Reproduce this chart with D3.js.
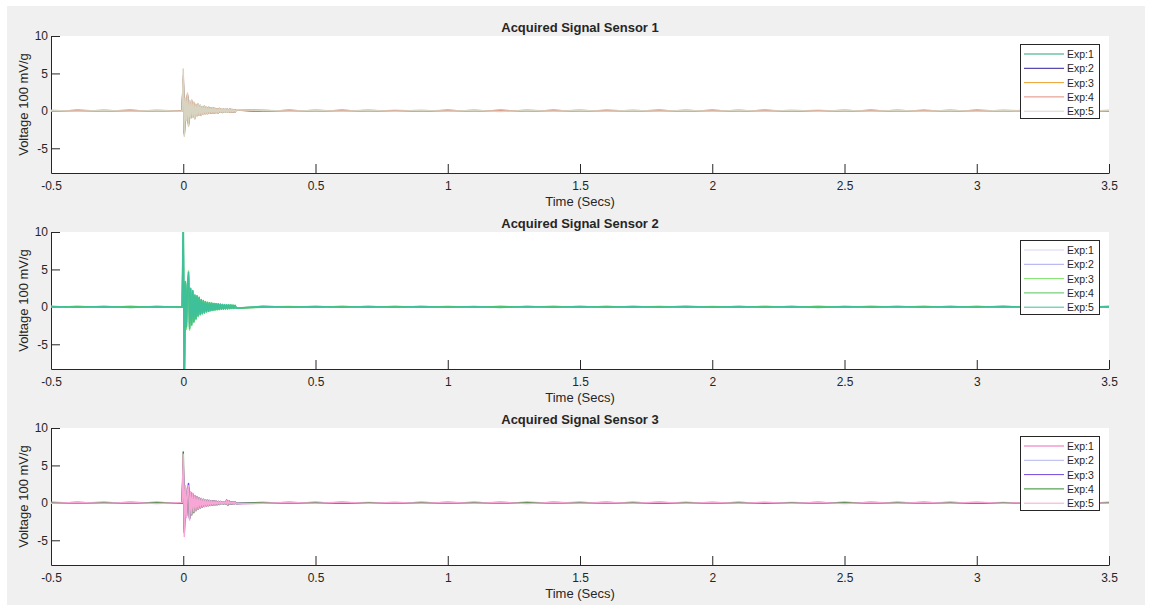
<!DOCTYPE html>
<html>
<head>
<meta charset="utf-8">
<script src="https://cdn.jsdelivr.net/npm/d3@7"></script>
<style>
  body { margin: 0; background: #ffffff; }
  text { font-family: "Liberation Sans", Arial, Helvetica, sans-serif; fill: #262626; }
</style>
</head>
<body>
<svg id="fig" width="1152" height="606"></svg>
<script>
// ---- labels and ticks ----
const sensorTitles = ["Acquired Signal Sensor 1", "Acquired Signal Sensor 2", "Acquired Signal Sensor 3"];
const expLabels = ["Exp:1", "Exp:2", "Exp:3", "Exp:4", "Exp:5"];
const xTicks = [-0.5, 0, 0.5, 1, 1.5, 2, 2.5, 3, 3.5];
const yTicks = [-5, 0, 5, 10];
const xDomain = [-0.5, 3.5];
const yDomain = [-8.3, 10];
const xLabel = "Time (Secs)";
const yLabel = "Voltage 100 mV/g";

// ---- line colours per sensor (Exp:1 .. Exp:5) ----
const sensor1Colors = ["#26a47c", "#2e1f9c", "#eea030", "#df8c78", "#d8d4c2"];
const sensor2Colors = ["#ddd4f0", "#a8a9f2", "#7de46c", "#55c45a", "#3ec19a"];
const sensor3Colors = ["#f06ab8", "#b3b4f0", "#7048e0", "#2f8a2f", "#f7a6d6"];

// ---- sample times ----
// trigger burst: every experiment sampled every 4 ms from t = 0
const burstStep = 0.004;
// quiet-period samples before and after the burst (s)
const baseTimes = [-0.5, -0.4, -0.3, -0.2, -0.1, -0.004,
  0.3, 0.4, 0.5, 0.6, 0.7, 0.8, 0.9, 1.0, 1.1, 1.2, 1.3,
  1.4, 1.5, 1.6, 1.7, 1.8, 1.9, 2.0, 2.1, 2.2, 2.3, 2.4,
  2.5, 2.6, 2.7, 2.8, 2.9, 3.0, 3.1, 3.2, 3.3, 3.4, 3.5];

// ---- Sensor 1: burst (V) ----
const sensor1Burst = [
  [3.9, -2.8, 1.2, -1.0, 1.8, -1.6, 1.0, -0.8, 1.1, -0.7, 0.9, -0.8, 0.7, -0.55, 0.75, -0.5, 0.6, -0.5, 0.5, -0.4, 0.55, -0.35, 0.4, -0.3, 0.45, -0.3,
   0.35, -0.25, 0.35, -0.25, 0.3, -0.2, 0.25, -0.22, 0.28, -0.18, 0.25, -0.18, 0.2, -0.16, 0.22, -0.15, 0.18, -0.15, 0.2, -0.12, 0.16, -0.13, 0.14, -0.1, 0.12],
  [4.3, -3.0, 1.4, -1.1, 2.0, -1.7, 1.1, -0.85, 1.2, -0.75, 1.0, -0.9, 0.75, -0.6, 0.8, -0.5, 0.65, -0.55, 0.5, -0.42, 0.58, -0.38, 0.42, -0.33, 0.46, -0.3,
   0.34, -0.26, 0.38, -0.25, 0.3, -0.22, 0.26, -0.24, 0.3, -0.17, 0.26, -0.19, 0.21, -0.17, 0.25, -0.15, 0.19, -0.17, 0.21, -0.13, 0.17, -0.14, 0.15, -0.1, 0.13],
  [3.6, -2.6, 1.3, -1.2, 2.1, -1.8, 1.2, -0.9, 1.3, -0.8, 1.05, -0.95, 0.8, -0.62, 0.85, -0.55, 0.7, -0.58, 0.52, -0.44, 0.6, -0.4, 0.45, -0.35, 0.48, -0.32,
   0.36, -0.27, 0.4, -0.27, 0.32, -0.23, 0.27, -0.25, 0.31, -0.18, 0.27, -0.2, 0.22, -0.18, 0.26, -0.16, 0.2, -0.18, 0.22, -0.14, 0.18, -0.15, 0.16, -0.11, 0.14],
  [4.7, -3.2, 1.5, -1.2, 2.2, -1.9, 1.3, -0.95, 1.35, -0.85, 1.1, -1.0, 0.85, -0.65, 0.9, -0.58, 0.72, -0.6, 0.55, -0.46, 0.62, -0.42, 0.47, -0.37, 0.5, -0.33,
   0.38, -0.28, 0.42, -0.28, 0.33, -0.24, 0.28, -0.26, 0.32, -0.19, 0.28, -0.21, 0.23, -0.19, 0.27, -0.17, 0.21, -0.19, 0.23, -0.14, 0.19, -0.15, 0.17, -0.11, 0.14],
  [5.6, -3.4, 1.7, -1.3, 2.4, -2.1, 1.4, -1.0, 1.5, -0.9, 1.2, -1.1, 0.9, -0.7, 1.0, -0.6, 0.8, -0.65, 0.6, -0.5, 0.7, -0.45, 0.5, -0.4, 0.55, -0.35,
   0.4, -0.3, 0.45, -0.3, 0.35, -0.25, 0.3, -0.28, 0.35, -0.2, 0.3, -0.22, 0.25, -0.2, 0.3, -0.18, 0.22, -0.2, 0.25, -0.15, 0.2, -0.16, 0.18, -0.12, 0.15]
];
// ---- Sensor 1: quiet-period noise (V) ----
const sensor1Baseline = [
  [0.03, -0.05, 0.04, -0.06, 0.04, -0.03, 0.05, -0.04, 0.06, -0.03, 0.05, -0.05, 0.03, -0.06, 0.04, -0.05, 0.05, -0.03, 0.06, -0.04, 0.04, -0.05, 0.05, -0.04, 0.06, -0.05, 0.03, -0.05, 0.04, -0.06, 0.05, -0.04, 0.05, -0.04, 0.06, -0.05, 0.04, -0.05, 0.03],
  [-0.04, 0.05, -0.03, 0.05, -0.06, 0.04, -0.05, 0.06, -0.04, 0.05, -0.04, 0.03, -0.05, 0.05, -0.06, 0.04, -0.04, 0.06, -0.05, 0.05, -0.03, 0.04, -0.06, 0.05, -0.04, 0.06, -0.05, 0.03, -0.05, 0.04, -0.05, 0.06, -0.04, 0.05, -0.03, 0.05, -0.04, 0.04, -0.03],
  [0.05, -0.04, 0.06, -0.05, 0.03, -0.04, 0.05, -0.06, 0.04, -0.05, 0.06, -0.03, 0.04, -0.05, 0.06, -0.05, 0.04, -0.04, 0.05, -0.06, 0.03, -0.05, 0.05, -0.04, 0.04, -0.06, 0.05, -0.03, 0.06, -0.04, 0.04, -0.05, 0.06, -0.05, 0.03, -0.04, 0.05, -0.04, 0.05],
  [-0.05, 0.04, -0.04, 0.06, -0.05, 0.03, -0.06, 0.05, -0.04, 0.04, -0.06, 0.05, -0.03, 0.05, -0.04, 0.06, -0.05, 0.04, -0.05, 0.03, -0.06, 0.05, -0.04, 0.05, -0.06, 0.04, -0.03, 0.06, -0.05, 0.04, -0.05, 0.03, -0.04, 0.06, -0.05, 0.05, -0.06, 0.04, -0.03],
  [0.04, -0.06, 0.05, -0.04, 0.06, -0.05, 0.07, -0.05, 0.05, -0.06, 0.04, -0.05, 0.06, -0.04, 0.05, -0.07, 0.05, -0.04, 0.06, -0.05, 0.04, -0.06, 0.05, -0.05, 0.06, -0.04, 0.05, -0.06, 0.04, -0.05, 0.06, -0.05, 0.05, -0.06, 0.04, -0.04, 0.06, -0.05, 0.05]
];

// ---- Sensor 2: burst (V) ----
const sensor2Burst = [
  [8.0, -7.0, 2.4, -2.0, 2.6, 3.6, -2.2, 1.9, -1.8, 1.7, -1.5, 1.2, -1.2, 1.1, -0.9, 1.0, -0.75, 0.75, -0.7, 0.65, -0.6, 0.52, -0.5, 0.45, -0.45, 0.42,
   -0.38, 0.38, -0.34, 0.34, -0.3, 0.32, -0.27, 0.3, -0.26, 0.26, -0.23, 0.24, -0.22, 0.22, -0.2, 0.21, -0.19, 0.2, -0.17, 0.19, -0.15, 0.17, -0.15, 0.15, -0.14],
  [8.5, -7.5, 2.5, -2.1, 2.7, 3.8, -2.3, 2.0, -1.9, 1.8, -1.6, 1.3, -1.3, 1.2, -0.95, 1.05, -0.8, 0.8, -0.72, 0.68, -0.64, 0.56, -0.52, 0.48, -0.48, 0.44,
   -0.4, 0.4, -0.36, 0.36, -0.32, 0.34, -0.29, 0.32, -0.27, 0.28, -0.24, 0.26, -0.24, 0.24, -0.21, 0.22, -0.2, 0.21, -0.18, 0.2, -0.16, 0.18, -0.16, 0.16, -0.14],
  [10.5, -11.0, 3.0, -3.0, 2.8, 4.8, -3.1, 2.3, -2.5, 2.0, -2.1, 1.5, -1.7, 1.4, -1.3, 1.2, -1.1, 0.95, -0.95, 0.8, -0.85, 0.65, -0.7, 0.58, -0.62, 0.52,
   -0.52, 0.48, -0.47, 0.43, -0.42, 0.4, -0.38, 0.38, -0.35, 0.34, -0.32, 0.3, -0.3, 0.28, -0.27, 0.27, -0.26, 0.24, -0.23, 0.23, -0.21, 0.21, -0.2, 0.19, -0.18],
  [9.0, -9.5, 3.2, -2.7, 2.9, 4.2, -2.7, 2.4, -2.2, 2.1, -1.9, 1.55, -1.5, 1.45, -1.15, 1.25, -0.95, 0.95, -0.85, 0.82, -0.75, 0.68, -0.62, 0.58, -0.56, 0.53,
   -0.48, 0.48, -0.43, 0.44, -0.38, 0.4, -0.35, 0.38, -0.32, 0.34, -0.29, 0.31, -0.28, 0.29, -0.25, 0.27, -0.24, 0.25, -0.21, 0.24, -0.19, 0.21, -0.19, 0.19, -0.17],
  [14.0, -12.0, 3.4, -2.6, 3.1, 4.6, -2.9, 2.5, -2.4, 2.2, -2.0, 1.6, -1.6, 1.5, -1.2, 1.3, -1.0, 1.0, -0.9, 0.85, -0.8, 0.7, -0.65, 0.6, -0.6, 0.55,
   -0.5, 0.5, -0.45, 0.45, -0.4, 0.42, -0.36, 0.4, -0.34, 0.35, -0.3, 0.32, -0.3, 0.3, -0.26, 0.28, -0.25, 0.26, -0.22, 0.25, -0.2, 0.22, -0.2, 0.2, -0.18]
];
// ---- Sensor 2: quiet-period noise (V) ----
const sensor2Baseline = [
  [0.05, -0.04, 0.05, -0.06, 0.04, -0.03, 0.06, -0.05, 0.04, -0.05, 0.06, -0.04, 0.05, -0.06, 0.03, -0.05, 0.04, -0.04, 0.06, -0.05, 0.05, -0.03, 0.06, -0.04, 0.04, -0.06, 0.05, -0.05, 0.03, -0.04, 0.05, -0.06, 0.04, -0.05, 0.06, -0.03, 0.04, -0.05, 0.04],
  [-0.04, 0.05, -0.06, 0.04, -0.05, 0.06, -0.03, 0.05, -0.05, 0.04, -0.06, 0.04, -0.05, 0.03, -0.06, 0.05, -0.04, 0.06, -0.04, 0.05, -0.05, 0.03, -0.06, 0.04, -0.05, 0.04, -0.06, 0.05, -0.03, 0.06, -0.04, 0.05, -0.04, 0.05, -0.06, 0.04, -0.03, 0.05, -0.05],
  [0.06, -0.05, 0.04, -0.05, 0.06, -0.04, 0.05, -0.03, 0.05, -0.06, 0.04, -0.06, 0.05, -0.04, 0.03, -0.05, 0.06, -0.05, 0.04, -0.04, 0.06, -0.05, 0.03, -0.05, 0.06, -0.04, 0.04, -0.06, 0.05, -0.03, 0.05, -0.06, 0.04, -0.05, 0.04, -0.05, 0.06, -0.04, 0.05],
  [-0.05, 0.06, -0.04, 0.04, -0.05, 0.05, -0.06, 0.03, -0.05, 0.05, -0.04, 0.06, -0.06, 0.04, -0.05, 0.05, -0.03, 0.04, -0.06, 0.06, -0.04, 0.05, -0.05, 0.03, -0.04, 0.06, -0.05, 0.04, -0.06, 0.05, -0.03, 0.05, -0.05, 0.04, -0.04, 0.06, -0.05, 0.06, -0.04],
  [0.06, -0.05, 0.05, -0.07, 0.04, -0.05, 0.07, -0.06, 0.05, -0.06, 0.05, -0.04, 0.06, -0.05, 0.06, -0.07, 0.05, -0.05, 0.06, -0.06, 0.05, -0.05, 0.07, -0.06, 0.04, -0.05, 0.06, -0.07, 0.05, -0.05, 0.06, -0.06, 0.05, -0.05, 0.07, -0.06, 0.05, -0.04, 0.06]
];

// ---- Sensor 3: burst (V) ----
const sensor3Burst = [
  [5.5, -3.8, 2.1, -1.8, 1.5, 2.1, -2.1, 1.4, -1.4, 1.2, -1.1, 0.95, -0.95, 0.8, -0.75, 0.68, -0.62, 0.58, -0.52, 0.48, -0.46, 0.41, -0.4, 0.36, -0.34, 0.31,
   -0.3, 0.28, -0.27, 0.24, -0.24, 0.21, -0.21, 0.19, -0.19, 0.17, -0.17, 0.15, -0.15, 0.14, -0.14, 0.33, -0.28, 0.28, -0.14, 0.13, -0.12, 0.11, -0.11, 0.1, -0.09],
  [4.6, -3.2, 1.9, -1.6, 1.3, 2.0, -1.9, 1.3, -1.2, 1.1, -1.0, 0.9, -0.85, 0.75, -0.68, 0.6, -0.55, 0.5, -0.47, 0.43, -0.41, 0.37, -0.36, 0.33, -0.31, 0.28,
   -0.27, 0.25, -0.24, 0.22, -0.22, 0.19, -0.19, 0.18, -0.17, 0.16, -0.15, 0.14, -0.14, 0.13, -0.12, 0.28, -0.24, 0.24, -0.12, 0.11, -0.11, 0.1, -0.1, 0.09, -0.08],
  [5.0, -3.5, 2.0, -1.7, 1.4, 2.6, -2.1, 1.4, -1.3, 1.2, -1.05, 0.95, -0.9, 0.8, -0.7, 0.65, -0.6, 0.55, -0.5, 0.45, -0.44, 0.4, -0.38, 0.35, -0.33, 0.3,
   -0.29, 0.27, -0.26, 0.23, -0.23, 0.2, -0.2, 0.19, -0.18, 0.17, -0.16, 0.15, -0.15, 0.14, -0.13, 0.3, -0.26, 0.26, -0.13, 0.12, -0.12, 0.11, -0.1, 0.09, -0.09],
  [6.8, -4.0, 2.0, -1.8, 1.4, 2.0, -2.0, 1.3, -1.6, 1.1, -1.3, 0.9, -1.05, 0.8, -0.85, 0.65, -0.7, 0.55, -0.6, 0.45, -0.5, 0.4, -0.45, 0.35, -0.38, 0.3,
   -0.34, 0.28, -0.3, 0.24, -0.26, 0.21, -0.24, 0.19, -0.21, 0.17, -0.19, 0.15, -0.17, 0.14, -0.16, 0.38, -0.32, 0.28, -0.16, 0.13, -0.14, 0.11, -0.12, 0.1, -0.1],
  [6.5, -4.5, 2.3, -2.0, 1.6, 2.3, -2.3, 1.5, -1.5, 1.3, -1.2, 1.0, -1.0, 0.85, -0.8, 0.7, -0.65, 0.6, -0.55, 0.5, -0.48, 0.42, -0.42, 0.38, -0.36, 0.32,
   -0.32, 0.3, -0.28, 0.25, -0.25, 0.22, -0.22, 0.2, -0.2, 0.18, -0.18, 0.16, -0.16, 0.15, -0.15, 0.35, -0.3, 0.3, -0.15, 0.14, -0.13, 0.12, -0.12, 0.1, -0.1]
];
// ---- Sensor 3: quiet-period noise (V) ----
const sensor3Baseline = [
  [-0.04, 0.05, -0.04, 0.06, -0.04, 0.03, -0.05, 0.05, -0.05, 0.04, -0.06, 0.05, -0.04, 0.05, -0.03, 0.05, -0.05, 0.04, -0.06, 0.04, -0.05, 0.05, -0.05, 0.03, -0.04, 0.06, -0.04, 0.05, -0.05, 0.05, -0.03, 0.04, -0.05, 0.06, -0.05, 0.04, -0.05, 0.05, -0.04],
  [0.04, -0.06, 0.05, -0.04, 0.05, -0.05, 0.03, -0.05, 0.06, -0.04, 0.05, -0.05, 0.04, -0.03, 0.05, -0.06, 0.05, -0.04, 0.04, -0.05, 0.06, -0.05, 0.03, -0.05, 0.05, -0.04, 0.04, -0.06, 0.05, -0.05, 0.04, -0.03, 0.05, -0.04, 0.05, -0.06, 0.05, -0.04, 0.03],
  [-0.05, 0.04, -0.05, 0.05, -0.03, 0.06, -0.04, 0.04, -0.05, 0.05, -0.05, 0.03, -0.06, 0.05, -0.04, 0.04, -0.05, 0.06, -0.03, 0.05, -0.05, 0.04, -0.04, 0.05, -0.06, 0.03, -0.05, 0.05, -0.04, 0.05, -0.04, 0.06, -0.05, 0.03, -0.05, 0.05, -0.04, 0.04, -0.05],
  [0.05, -0.03, 0.05, -0.05, 0.04, -0.06, 0.05, -0.04, 0.05, -0.05, 0.03, -0.05, 0.06, -0.04, 0.05, -0.05, 0.04, -0.03, 0.05, -0.06, 0.05, -0.04, 0.04, -0.05, 0.06, -0.05, 0.03, -0.05, 0.04, -0.04, 0.05, -0.06, 0.05, -0.05, 0.03, -0.04, 0.05, -0.05, 0.04],
  [-0.05, 0.06, -0.05, 0.05, -0.07, 0.05, -0.06, 0.05, -0.05, 0.07, -0.05, 0.06, -0.05, 0.04, -0.06, 0.05, -0.07, 0.05, -0.05, 0.06, -0.05, 0.07, -0.05, 0.05, -0.06, 0.05, -0.04, 0.06, -0.07, 0.05, -0.05, 0.05, -0.06, 0.07, -0.05, 0.05, -0.05, 0.06, -0.05]
];

const sensors = [
  { title: sensorTitles[0], colors: sensor1Colors, burst: sensor1Burst, baseline: sensor1Baseline },
  { title: sensorTitles[1], colors: sensor2Colors, burst: sensor2Burst, baseline: sensor2Baseline },
  { title: sensorTitles[2], colors: sensor3Colors, burst: sensor3Burst, baseline: sensor3Baseline }
];

// ---- layout ----
const plotLeft = 51, plotRight = 1109, plotH = 137;
const panelTops = [36, 232, 428];
const tickLen = 9;
const fontStack = '"Liberation Sans", Arial, Helvetica, sans-serif';

const svg = d3.select("#fig");
svg.append("rect").attr("x", 7).attr("y", 6).attr("width", 1138).attr("height", 599).attr("fill", "#f0f0f0");
const defs = svg.append("defs");

// (t, v) points of one experiment: quiet samples + burst samples, in time order
function seriesPoints(burstVals, baseVals) {
  const pts = [];
  const n = Math.min(baseTimes.length, baseVals.length);
  for (let i = 0; i < n; i++) pts.push([baseTimes[i], baseVals[i]]);
  burstVals.forEach((v, i) => pts.push([i * burstStep, v]));
  pts.sort((a, b) => a[0] - b[0]);
  return pts;
}

sensors.forEach((s, si) => {
  const top = panelTops[si];
  const x = d3.scaleLinear().domain(xDomain).range([plotLeft, plotRight]);
  const y = d3.scaleLinear().domain(yDomain).range([top + plotH, top]);
  const g = svg.append("g");

  // plot area
  g.append("rect").attr("x", plotLeft).attr("y", top)
    .attr("width", plotRight - plotLeft).attr("height", plotH).attr("fill", "#ffffff");

  // axes first so the traces sit above them (ticks point inward)
  const fmt = d => String(d);
  const xAxis = d3.axisBottom(x).tickValues(xTicks).tickFormat(fmt).tickSizeInner(-tickLen).tickSizeOuter(0).tickPadding(8);
  const yAxis = d3.axisLeft(y).tickValues(yTicks).tickFormat(fmt).tickSizeInner(-tickLen).tickSizeOuter(0).tickPadding(3);
  const gx = g.append("g").attr("transform", `translate(0,${top + plotH})`).call(xAxis);
  const gy = g.append("g").attr("transform", `translate(${plotLeft},0)`).call(yAxis);
  [gx, gy].forEach(a => {
    a.select(".domain").attr("stroke", "#262626").attr("stroke-width", 1);
    a.selectAll(".tick line").attr("stroke", "#262626").attr("stroke-width", 1);
    a.selectAll(".tick text").attr("fill", "#262626").style("font-size", "12px").style("font-family", fontStack);
  });

  const clipId = "clip" + si;
  defs.append("clipPath").attr("id", clipId).append("rect")
    .attr("x", plotLeft).attr("y", top).attr("width", plotRight - plotLeft).attr("height", plotH);

  const line = d3.line().x(d => x(d[0])).y(d => y(d[1]));
  const lines = g.append("g").attr("clip-path", `url(#${clipId})`);
  s.burst.forEach((b, ei) => {
    lines.append("path")
      .datum(seriesPoints(b, s.baseline[ei]))
      .attr("d", line)
      .attr("fill", "none")
      .attr("stroke", s.colors[ei])
      .attr("stroke-width", 1.5)
      .attr("stroke-linejoin", "round");
  });

  // title and axis labels
  g.append("text").attr("x", (plotLeft + plotRight) / 2).attr("y", top - 4)
    .attr("text-anchor", "middle").style("font-size", "13px").style("font-weight", "bold").text(s.title);
  g.append("text").attr("x", (plotLeft + plotRight) / 2).attr("y", top + plotH + 33)
    .attr("text-anchor", "middle").style("font-size", "13px").text(xLabel);
  g.append("text").attr("transform", `translate(28,${top + plotH / 2}) rotate(-90)`)
    .attr("text-anchor", "middle").style("font-size", "13px").text(yLabel);

  // legend
  const lx = 1020, ly = top + 8, lw = 79, lh = 74;
  const lg = g.append("g");
  lg.append("rect").attr("x", lx + 0.5).attr("y", ly + 0.5).attr("width", lw).attr("height", lh)
    .attr("fill", "#ffffff").attr("stroke", "#262626").attr("stroke-width", 1);
  expLabels.forEach((lab, ei) => {
    const yy = ly + 10 + ei * 14.3;
    lg.append("line").attr("x1", lx + 4).attr("x2", lx + 44).attr("y1", yy).attr("y2", yy)
      .attr("stroke", s.colors[ei]).attr("stroke-width", 1);
    lg.append("text").attr("x", lx + 47).attr("y", yy).attr("dominant-baseline", "central")
      .style("font-size", "10.5px").text(lab);
  });
});
</script>
</body>
</html>
